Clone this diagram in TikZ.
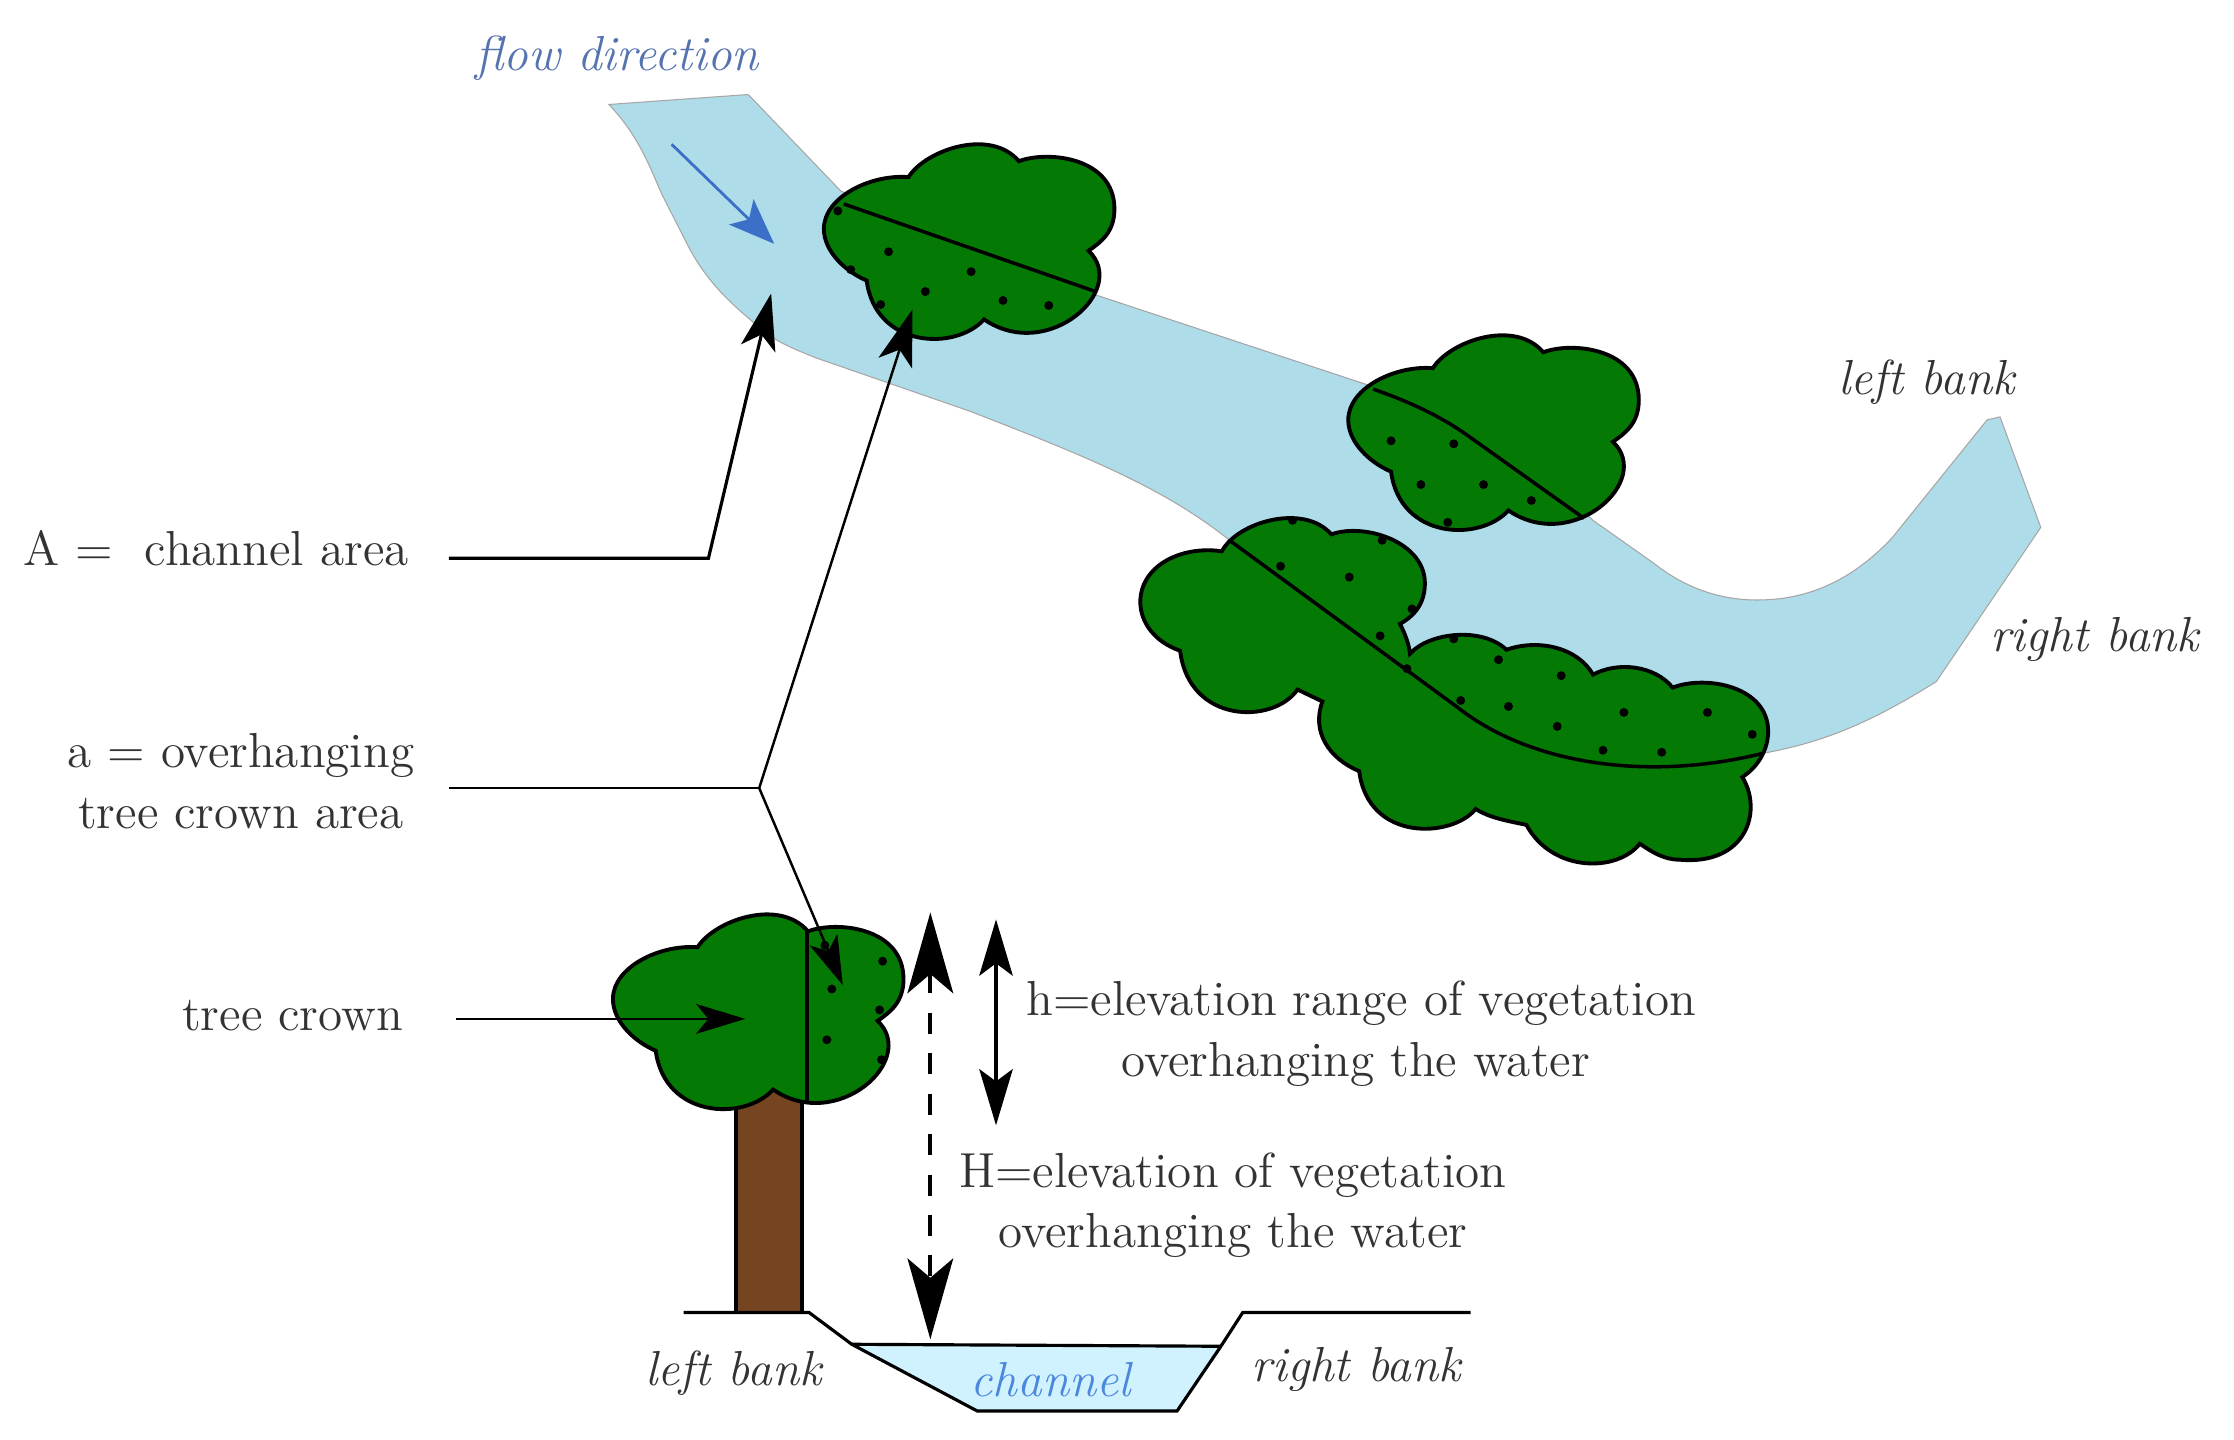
\documentclass[tikz,border=0pt]{standalone}
\usetikzlibrary{arrows.meta}
\definecolor{riverblue}{RGB}{175,220,233}
\definecolor{channelblue}{RGB}{208,242,255}
\definecolor{crowngreen}{RGB}{4,122,4}
\definecolor{trunkbrown}{RGB}{117,68,33}
\definecolor{flowblue}{RGB}{60,112,200}
\definecolor{flowtext}{RGB}{85,115,175}
\definecolor{channeltext}{RGB}{75,135,220}
\newcommand{\labelfont}{\fontsize{14}{17.2}\selectfont}
\begin{document}
\begin{tikzpicture}[x=0.00995cm,y=-0.00995cm]
  \tikzset{
    textlabel/.style={font=\labelfont,text=black!80,align=center,inner sep=0pt},
    banklabel/.style={textlabel,font=\labelfont\itshape},
    leader/.style={-{Stealth[length=16pt,width=10pt,inset=4pt]},line width=0.9pt},
    thinleader/.style={-{Stealth[length=14pt,width=8.5pt,inset=3.5pt]},line width=0.7pt},
    heightrange/.style={{Stealth[length=16pt,width=9.5pt,inset=3.5pt]}-{Stealth[length=16pt,width=9.5pt,inset=3.5pt]},line width=1.1pt},
    bigrange/.style={{Stealth[length=23pt,width=13pt,inset=5.5pt]}-{Stealth[length=23pt,width=13pt,inset=5.5pt]},line width=1.1pt,dash pattern=on 6pt off 5.5pt},
    crownshape/.style={draw=black,fill=crowngreen,line width=1.1pt},
    crownsplit/.style={line width=1pt},
    crowndot/.style={fill=black},
    ground/.style={line width=0.9pt},
    crown/.pic={
      \path[crownshape] (-62,-65) .. controls (-45,-92) and (20,-115) .. (49,-81)
        .. controls (78,-92) and (145,-85) .. (145,-33)
        .. controls (145,-10) and (132,0) .. (119,9)
        .. controls (160,48) and (78,122) .. (14,78)
        .. controls (-15,110) and (-95,107) .. (-104,39)
        .. controls (-125,30) and (-147,10) .. (-147,-13)
        .. controls (-147,-45) and (-100,-68) .. (-62,-65) -- cycle;
    },
  }
  \useasboundingbox (0,0) rectangle (2245.2,1447.2);

  \path[fill=riverblue,draw=black!35,line width=0.3pt] (612,105) -- (752,95) -- (845,192) -- (1100,296) -- (1378,388)
    .. controls (1480,425) and (1560,480) .. (1601,523)
    -- (1662,566)
    .. controls (1695,592) and (1730,603) .. (1766,603)
    .. controls (1815,603) and (1860,585) .. (1902,540)
    -- (1997,422) -- (2010,419) -- (2051,530) -- (1946,685)
    .. controls (1890,720) and (1840,745) .. (1772,757)
    .. controls (1660,785) and (1540,770) .. (1465,711)
    -- (1237,544)
    .. controls (1170,490) and (1090,458) .. (974,413)
    -- (821,360)
    .. controls (790,348) and (770,338) .. (756,323)
    .. controls (735,305) and (712,285) .. (693,250)
    -- (665,195) .. controls (650,160) and (640,135) .. (612,105) -- cycle;
  \coordinate (flowstart) at (675,145);
  \coordinate (flowend) at (778,245);
  \draw[-{Stealth[length=13pt,width=10pt,inset=3pt]},flowblue,line width=0.8pt] (flowstart) -- (flowend);

  \pic at (975,243) {crown};
  \draw[crownsplit] (848,205) -- (1101,293);
  \foreach \p in {(842,212),(893,253),(976,273),(930,293),(1008,302),(1054,307),(885,306),(855,271)}
    \fill[crowndot] \p circle[radius=4.5];

  \pic at (1502,435) {crown};
  \draw[crownsplit] (1380,391) .. controls (1420,405) and (1450,420) .. (1474,437) -- (1592,521);
  \foreach \p in {(1398,443),(1461,446),(1428,487),(1491,487),(1539,503),(1455,525)}
    \fill[crowndot] \p circle[radius=4.5];

  \path[crownshape] (1228,554) .. controls (1243,525) and (1310,505) .. (1338,537)
    .. controls (1372,525) and (1432,545) .. (1432,586)
    .. controls (1432,603) and (1425,617) .. (1407,627)
    .. controls (1412,637) and (1416,647) .. (1417,657)
    .. controls (1437,635) and (1490,630) .. (1514,653)
    .. controls (1545,642) and (1585,650) .. (1601,678)
    .. controls (1625,665) and (1662,668) .. (1681,691)
    .. controls (1715,678) and (1777,690) .. (1777,735)
    .. controls (1777,752) and (1768,770) .. (1751,781)
    .. controls (1772,815) and (1755,870) .. (1688,864)
    .. controls (1672,864) and (1660,856) .. (1648,848)
    .. controls (1625,877) and (1560,877) .. (1534,829)
    .. controls (1515,825) and (1497,822) .. (1483,813)
    .. controls (1460,842) and (1375,847) .. (1366,775)
    .. controls (1335,762) and (1318,735) .. (1329,705)
    -- (1304,693)
    .. controls (1280,728) and (1195,728) .. (1186,654)
    .. controls (1160,645) and (1146,625) .. (1146,605)
    .. controls (1146,570) and (1185,548) .. (1228,554) -- cycle;
  \draw[crownsplit] (1237,544) -- (1465,711) .. controls (1540,770) and (1660,785) .. (1772,757);
  \foreach \p in {(1299,523),(1389,543),(1287,569),(1356,580),(1419,612),(1387,639),(1414,672),(1461,642),(1506,663),
    (1569,679),(1468,704),(1516,710),(1565,730),(1632,716),(1716,716),(1761,738),(1611,754),(1670,756)}
    \fill[crowndot] \p circle[radius=4.5];

  \path[fill=trunkbrown,draw=black,line width=1.1pt] (740,1090) rectangle (806,1319);
  \pic at (763,1017) {crown};
  \draw[crownsplit] (811,935) -- (811,1108);
  \foreach \p in {(887,966),(836,994),(884,1015),(831,1045),(886,1065),(829,950)}
    \fill[crowndot] \p circle[radius=4.5];

  \path[fill=channelblue] (856,1351) -- (1227,1353) -- (1183,1418) -- (982,1418) -- cycle;
  \draw[ground] (687,1319) -- (813,1319) -- (856,1351) -- (982,1418) -- (1183,1418) -- (1227,1353) -- (1249,1319) -- (1478,1319);
  \draw[ground] (856,1351) -- (1227,1353);

  \node[textlabel,text=flowtext,font=\labelfont\itshape] (flow) at (620,58) {flow direction};
  \node[banklabel] (leftbank) at (1936,384) {left bank};
  \node[banklabel] (rightbank) at (2105,643) {right bank};
  \node[textlabel] (bigA) at (217,551) {A =\ \ channel area};
  \node[textlabel] (smalla) at (242,785) {a = overhanging\\tree crown area};
  \node[textlabel] (treecrown) at (294,1021) {tree crown};
  \node[textlabel] (rangeh) at (1368,1039) {h=elevation range of vegetation\\overhanging the water\hspace*{3.2pt}};
  \node[textlabel] (rangeH) at (1239,1211) {H=elevation of vegetation\\overhanging the water};
  \node[banklabel] (lowleft) at (737,1380) {left bank};
  \node[banklabel] (lowright) at (1363,1376) {right bank};
  \node[textlabel,font=\labelfont\itshape,text=channeltext] (channel) at (1056,1387) {channel};

  \coordinate (Astart) at (451,561);
  \coordinate (Abend) at (712,561);
  \coordinate (Atip) at (775,295);
  \draw[leader] (Astart) -- (Abend) -- (Atip);
  \coordinate (astart) at (451,792);
  \coordinate (abend) at (763,792);
  \coordinate (atip) at (917,311);
  \coordinate (treetip) at (847,990);
  \draw[line width=0.7pt] (astart) -- (abend);
  \draw[leader,line width=0.7pt] (abend) -- (atip);
  \draw[thinleader] (abend) -- (treetip);
  \coordinate (crownstart) at (458,1024);
  \coordinate (crowntip) at (749,1024);
  \draw[thinleader] (crownstart) -- (crowntip);
  \coordinate (htop) at (1001,924);
  \coordinate (hbot) at (1001,1131);
  \draw[heightrange] (htop) -- (hbot);
  \coordinate (Htop) at (935,917);
  \coordinate (Hbot) at (935,1346);
  \draw[bigrange] (Htop) -- (Hbot);
\end{tikzpicture}
\end{document}
